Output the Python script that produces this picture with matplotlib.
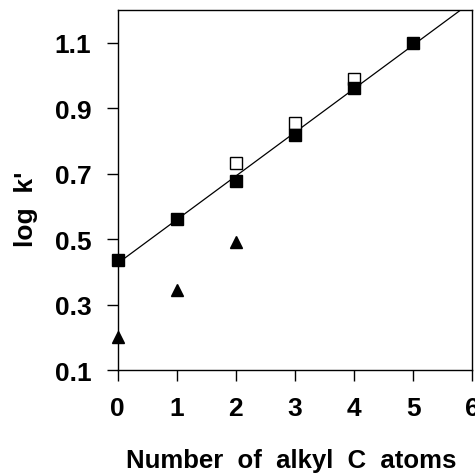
import numpy as np
import matplotlib.pyplot as plt

# number of alkyl carbon atoms
carbons = [0, 1, 2, 3, 4, 5]
log_k_filled = [0.435, 0.563, 0.679, 0.817, 0.963, 1.100]

carbons_open = [2, 3, 4]
log_k_open = [0.734, 0.856, 0.988]

carbons_tri = [0, 1, 2]
log_k_tri = [0.200, 0.344, 0.490]

plt.rcParams['font.family'] = ['Liberation Sans', 'DejaVu Sans']
plt.rcParams['font.weight'] = 'bold'

fig = plt.figure(figsize=(4.75, 4.77), dpi=100)
ax = fig.add_axes([0.248, 0.222, 0.746, 0.755])

# linear fit through filled squares
slope, intercept = np.polyfit(carbons, log_k_filled, 1)
xs = np.array([0, 6])
ax.plot(xs, slope * xs + intercept, color='black', lw=0.9, zorder=2)

ax.plot(carbons_open, log_k_open, 's', ms=8, mfc='white', mec='black', mew=1.0,
        clip_on=False, zorder=3)
ax.plot(carbons, log_k_filled, 's', ms=8.5, color='black', clip_on=False, zorder=4)
ax.plot(carbons_tri, log_k_tri, '^', ms=8.5, color='black', clip_on=False, zorder=4)

ax.set_xlim(0, 6)
ax.set_ylim(0.1, 1.2)
ax.set_xticks(range(0, 7))
ax.set_yticks([0.1, 0.3, 0.5, 0.7, 0.9, 1.1])
ax.set_yticklabels(['0.1', '0.3', '0.5', '0.7', '0.9', '1.1'])
ax.tick_params(direction='out', length=8, width=1, labelsize=19)
ax.tick_params(axis='y', pad=11)
ax.tick_params(axis='x', pad=11)
for lbl in ax.get_xticklabels() + ax.get_yticklabels():
    lbl.set_fontweight('bold')

ax.set_xlabel('Number  of  alkyl  C  atoms', fontsize=18.5, fontweight='bold')
ax.set_ylabel("log  k'", fontsize=19, fontweight='bold')
ax.xaxis.set_label_coords(0.49, -0.215)
ax.yaxis.set_label_coords(-0.225, 0.45)

for sp in ax.spines.values():
    sp.set_linewidth(1.0)

plt.savefig('out.png', dpi=100)
